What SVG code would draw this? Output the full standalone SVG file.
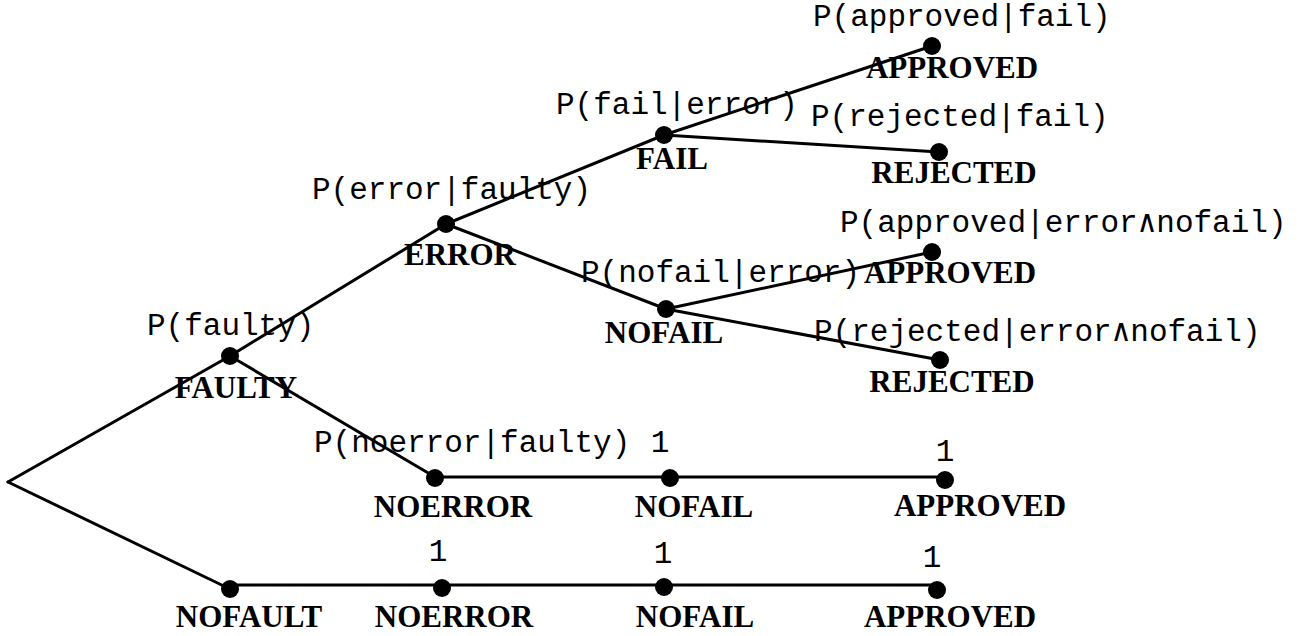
<svg xmlns="http://www.w3.org/2000/svg" width="1310" height="636" viewBox="0 0 1310 636">
<style>
.edge{stroke:#000;stroke-width:3;fill:none;stroke-linecap:round}
.dot{fill:#000}
.lbl{font-family:"Liberation Serif","Times New Roman",serif;font-weight:bold;font-size:31px;fill:#000;text-anchor:middle}
.prob{font-family:"Liberation Mono","DejaVu Sans Mono",monospace;font-size:31px;fill:#000}
.one{font-family:"Liberation Mono","DejaVu Sans Mono",monospace;font-size:31px;fill:#000;text-anchor:middle}
</style>
<rect width="1310" height="636" fill="#fff"/>
<g id="connectors">
<line class="edge" x1="8" y1="482" x2="230" y2="356"/>
<line class="edge" x1="8" y1="482" x2="230" y2="589"/>
<line class="edge" x1="230" y1="356" x2="446" y2="224"/>
<line class="edge" x1="446" y1="224" x2="664" y2="135"/>
<line class="edge" x1="664" y1="135" x2="932" y2="46"/>
<line class="edge" x1="664" y1="135" x2="939" y2="152"/>
<line class="edge" x1="446" y1="224" x2="666" y2="309"/>
<line class="edge" x1="666" y1="309" x2="932" y2="252"/>
<line class="edge" x1="666" y1="309" x2="940" y2="360"/>
<line class="edge" x1="230" y1="356" x2="435" y2="477"/>
<line class="edge" x1="435" y1="477" x2="945" y2="477"/>
<line class="edge" x1="230" y1="585" x2="937" y2="585"/>
</g>
<g id="root"></g>
<g id="faulty">
<circle class="dot" cx="230" cy="356" r="9"/>
<text class="prob" x="147" y="335">P(faulty)</text>
<text class="lbl" x="236" y="398">FAULTY</text>
</g>
<g id="error">
<circle class="dot" cx="446" cy="224" r="9"/>
<text class="prob" x="312" y="199">P(error|faulty)</text>
<text class="lbl" x="460" y="265">ERROR</text>
</g>
<g id="fail">
<circle class="dot" cx="664" cy="135" r="9"/>
<text class="prob" x="556" y="114">P(fail|error)</text>
<text class="lbl" x="672" y="169">FAIL</text>
</g>
<g id="approved1">
<circle class="dot" cx="932" cy="46" r="9"/>
<text class="prob" x="813" y="26">P(approved|fail)</text>
<text class="lbl" x="952" y="78">APPROVED</text>
</g>
<g id="rejected1">
<circle class="dot" cx="939" cy="152" r="9"/>
<text class="prob" x="811" y="126">P(rejected|fail)</text>
<text class="lbl" x="954" y="183">REJECTED</text>
</g>
<g id="nofail1">
<circle class="dot" cx="666" cy="309" r="9"/>
<text class="prob" x="581" y="282">P(nofail|error)</text>
<text class="lbl" x="664" y="343">NOFAIL</text>
</g>
<g id="approved2">
<circle class="dot" cx="932" cy="252" r="9"/>
<text class="prob" x="840" y="232">P(approved|error∧nofail)</text>
<text class="lbl" x="950" y="283">APPROVED</text>
</g>
<g id="rejected2">
<circle class="dot" cx="940" cy="360" r="9"/>
<text class="prob" x="814" y="341">P(rejected|error∧nofail)</text>
<text class="lbl" x="952" y="392">REJECTED</text>
</g>
<g id="noerror1">
<circle class="dot" cx="435" cy="478" r="9"/>
<text class="prob" x="314" y="452">P(noerror|faulty)</text>
<text class="lbl" x="453" y="517">NOERROR</text>
</g>
<g id="nofail2">
<circle class="dot" cx="670" cy="478" r="9"/>
<text class="one" x="660" y="452">1</text>
<text class="lbl" x="694" y="517">NOFAIL</text>
</g>
<g id="approved3">
<circle class="dot" cx="945" cy="480" r="9"/>
<text class="one" x="945" y="461">1</text>
<text class="lbl" x="980" y="516">APPROVED</text>
</g>
<g id="nofault">
<circle class="dot" cx="230" cy="589" r="9"/>
<text class="lbl" x="249" y="627">NOFAULT</text>
</g>
<g id="noerror2">
<circle class="dot" cx="442" cy="588" r="9"/>
<text class="one" x="438" y="561">1</text>
<text class="lbl" x="454" y="627">NOERROR</text>
</g>
<g id="nofail3">
<circle class="dot" cx="664" cy="587" r="9"/>
<text class="one" x="663" y="563">1</text>
<text class="lbl" x="695" y="627">NOFAIL</text>
</g>
<g id="approved4">
<circle class="dot" cx="937" cy="590" r="9"/>
<text class="one" x="932" y="567">1</text>
<text class="lbl" x="950" y="627">APPROVED</text>
</g>
</svg>
